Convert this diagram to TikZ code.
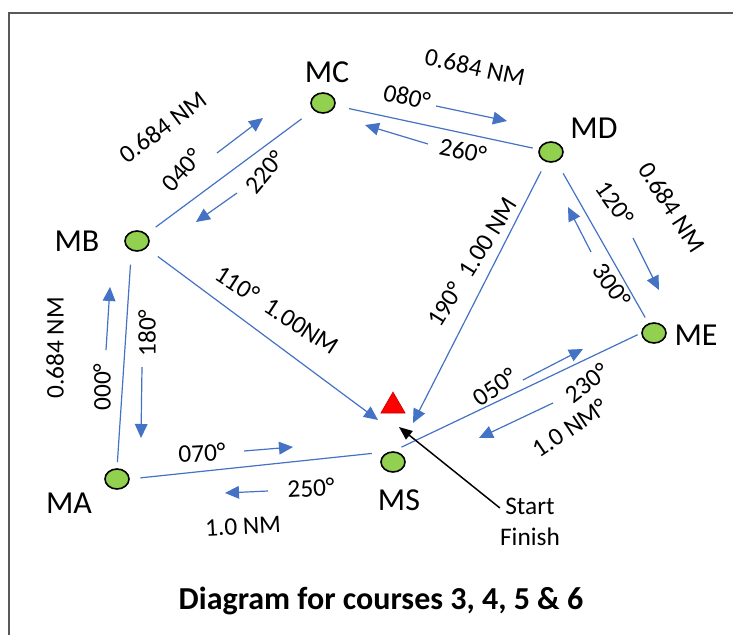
\documentclass[tikz,border=0pt]{standalone}
\usepackage{fontspec}
\setmainfont{Carlito}
\usetikzlibrary{arrows.meta,shapes.geometric}

\definecolor{legblue}{HTML}{4472C4}
\definecolor{buoygreen}{HTML}{92D050}

\tikzset{
  buoy/.style={ellipse,draw,line width=1.2pt,fill=buoygreen,minimum width=18pt,minimum height=15pt,inner sep=0pt},
  leg/.style={draw=legblue,line width=0.9pt},
  course/.style={draw=legblue,line width=0.9pt,-{Triangle[width=9.5pt,length=10.5pt]}},
  pointer/.style={draw=black,line width=1.1pt,-{Triangle[width=8pt,length=10pt]}},
  leglabel/.style={font=\fontsize{19}{22}\selectfont,inner sep=0pt},
  ptname/.style={font=\fontsize{24}{28}\selectfont,inner sep=0pt},
}

\begin{document}
\begin{tikzpicture}[x=0.75pt,y=-0.75pt]
    \useasboundingbox (0,0) rectangle (733,635);
    \draw[gray!70!black,line width=1pt] (733,13) -- (9,13) -- (9,635);

    % marks
    \node at (137,241) [buoy] (MB) {};
    \node at (323,103) [buoy] (MC) {};
    \node at (551,152) [buoy] (MD) {};
    \node at (654,333) [buoy] (ME) {};
    \node at (117,479) [buoy] (MA) {};
    \node at (393,462) [buoy] (MS) {};
    \node at (393,406) [regular polygon,regular polygon sides=3,draw=red!75!black,fill=red,minimum size=21pt,inner sep=0pt] (flag) {};

    \node at (77,241) [ptname] (lMB) {MB};
    \node at (327,72) [ptname] (lMC) {MC};
    \node at (594,128) [ptname] (lMD) {MD};
    \node at (696,335) [ptname] (lME) {ME};
    \node at (69,503) [ptname] (lMA) {MA};
    \node at (399,500) [ptname] (lMS) {MS};

    % legs
    \coordinate (inB) at (378,420);
    \coordinate (inD) at (413,423);
    \draw[leg,shorten <=8.5pt,shorten >=11pt] (MB) -- (MC);
    \draw[leg,shorten <=10.5pt,shorten >=4.5pt] (MC) -- (MD);
    \draw[leg,shorten <=10pt,shorten >=5pt] (MD) -- (ME);
    \draw[leg,shorten <=4.5pt,shorten >=10.5pt] (MA.north) -- (MB.240);
    \draw[leg,shorten <=8pt,shorten >=16pt] (MA.east) -- (MS.north);
    \draw[leg,shorten <=7pt,shorten >=3pt] (MS.north) -- (ME.west);
    \draw[leg,-{Triangle[width=9.5pt,length=10.5pt]},shorten <=10.5pt] (MB) -- (inB);
    \draw[leg,-{Triangle[width=9.5pt,length=10.5pt]},shorten <=8pt] (MD) -- (inD);

    % course arrows
    \coordinate (s040) at (217,153); \coordinate (e040) at (263,118);
    \coordinate (s220) at (237,193); \coordinate (e220) at (196,222);
    \coordinate (s080) at (436,106); \coordinate (e080) at (507,121);
    \coordinate (s260) at (428,144); \coordinate (e260) at (365,125);
    \coordinate (s120) at (633,238); \coordinate (e120) at (659,290);
    \coordinate (s300) at (591,252); \coordinate (e300) at (568,207);
    \coordinate (s000) at (106,350); \coordinate (e000) at (110,287);
    \coordinate (s180) at (142,367); \coordinate (e180) at (141,438);
    \coordinate (s070) at (244,451); \coordinate (e070) at (293,447);
    \coordinate (s250) at (268,491); \coordinate (e250) at (225,493);
    \coordinate (s050) at (523,380); \coordinate (e050) at (583,349);
    \coordinate (s230) at (553,403); \coordinate (e230) at (479,438);
    \draw[course] (s040) -- (e040);
    \draw[course] (s220) -- (e220);
    \draw[course] (s080) -- (e080);
    \draw[course] (s260) -- (e260);
    \draw[course] (s120) -- (e120);
    \draw[course] (s300) -- (e300);
    \draw[course] (s000) -- (e000);
    \draw[course] (s180) -- (e180);
    \draw[course] (s070) -- (e070);
    \draw[course] (s250) -- (e250);
    \draw[course] (s050) -- (e050);
    \draw[course] (s230) -- (e230);

    % bearings and distances
    \node at (163,127) [leglabel,rotate=37] (dBC) {0.684 NM};
    \node at (182,170) [leglabel,rotate=48] (bBC) {040°};
    \node at (265,172) [leglabel,rotate=50] (bCB) {220°};
    \node at (475,67) [leglabel,rotate=-12] (dCD) {0.684 NM};
    \node at (407,97) [leglabel,rotate=-13] (bCD) {080°};
    \node at (463,151) [leglabel,rotate=-11] (bDC) {260°};
    \node at (672,207) [leglabel,rotate=-57] (dDE) {0.684 NM};
    \node at (615,203) [leglabel,rotate=-55] (bDE) {120°};
    \node at (612,285) [leglabel,rotate=-55] (bED) {300°};
    \node at (277,310) [leglabel,rotate=-33] (dBS) {110°~~1.00NM};
    \node at (472,262) [leglabel,rotate=58] (dDS) {190°~~1.00 NM};
    \node at (495,387) [leglabel,rotate=36] (bSE) {050°};
    \node at (587,383) [leglabel,rotate=38] (bES) {230°};
    \node at (570,428) [leglabel,rotate=34] (dES) {1.0 NM°};
    \node at (55,348) [leglabel,rotate=90] (dAB) {0.684 NM};
    \node at (102,387) [leglabel,rotate=90] (bAB) {000°};
    \node at (147,333) [leglabel,rotate=90] (bBA) {180°};
    \node at (202,453) [leglabel,rotate=3] (bAS) {070°};
    \node at (311,488) [leglabel,rotate=3] (bSA) {250°};
    \node at (243,526) [leglabel,rotate=3] (dAS) {1.0 NM};

    % start and finish
    \node at (530,522) [align=center,font=\fontsize{19}{23}\selectfont,inner sep=0pt] (sf) {Start\\Finish};
    \coordinate (tipSF) at (399,427);
    \draw[pointer] (sf.155) -- (tipSF);

    \node at (381,601) [font=\fontsize{24}{28}\selectfont\bfseries] (title) {Diagram for courses 3, 4, 5 \& 6};
\end{tikzpicture}
\end{document}
